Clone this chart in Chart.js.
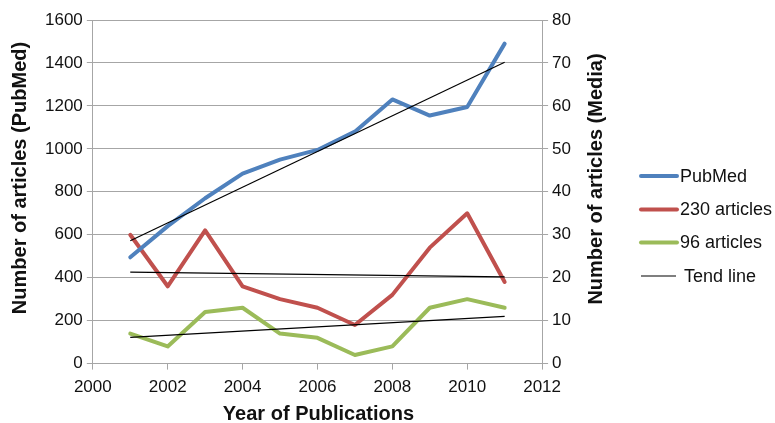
<!DOCTYPE html>
<html>
<head>
<meta charset="utf-8">
<script src="https://cdn.jsdelivr.net/npm/chart.js@4.4.1/dist/chart.umd.min.js"></script>
<style>
  html, body { margin: 0; padding: 0; background: #fff; }
  #wrap { width: 775px; height: 423px; }
</style>
</head>
<body>
<div id="wrap"><canvas id="myChart" width="775" height="423"></canvas></div>
<script>
// данные
const years = [2001, 2002, 2003, 2004, 2005, 2006, 2007, 2008, 2009, 2010, 2011];
const pubmedValues = [495, 640, 770, 885, 950, 995, 1080, 1230, 1155, 1195, 1490];
const articles230 = [30, 18, 31, 18, 15, 13, 9, 16, 27, 35, 19];
const articles96 = [7, 4, 12, 13, 7, 6, 2, 4, 13, 15, 13];

// концы линий тренда
const trendYears = [2001, 2011];
const pubmedTrend = [572, 1403];
const articles230Trend = [21.3, 20.2];
const articles96Trend = [6.1, 11.0];

const legendLabels = ["PubMed", "230 articles", "96 articles", "Tend line"];
const xTitle = "Year of Publications";
const yTitle = "Number of articles (PubMed)";
const y1Title = "Number of articles (Media)";

const BLUE = "#4F81BD";
const RED = "#C0504D";
const GREEN = "#9BBB59";
const GRID = "#a6a6a6";
const FONT = "'Liberation Sans', Arial, Helvetica, sans-serif";

function toPoints(xs, ys) {
  return xs.map((x, i) => ({ x: x, y: ys[i] }));
}

function mainLine(label, color, data, axis) {
  return {
    label: label,
    data: toPoints(years, data),
    borderColor: color,
    backgroundColor: color,
    borderWidth: 4,
    radius: 0,
    fill: false,
    tension: 0,
    borderJoinStyle: "round",
    borderCapStyle: "round",
    yAxisID: axis,
    order: 1
  };
}

function trendLine(data, axis) {
  return {
    label: "Tend line",
    data: toPoints(trendYears, data),
    borderColor: "#000",
    backgroundColor: "#000",
    borderWidth: 1.2,
    radius: 0,
    fill: false,
    tension: 0,
    yAxisID: axis,
    order: 0
  };
}

// подписи осей и легенда справа, рисуем сами
const sideLegend = {
  id: "sideLegend",
  afterDraw(chart) {
    const ctx = chart.ctx;
    const colors = [BLUE, RED, GREEN, "#000"];
    const ys = [176, 209.5, 242.5, 276];
    ctx.save();

    ctx.fillStyle = "#111";
    ctx.font = "bold 20px " + FONT;
    ctx.textAlign = "center";
    ctx.textBaseline = "middle";
    ctx.fillText(xTitle, chart.chartArea.left + chart.chartArea.width / 2 + 1, 414);

    ctx.save();
    ctx.translate(20, 178);
    ctx.rotate(-Math.PI / 2);
    ctx.fillText(yTitle, 0, 0);
    ctx.restore();

    ctx.save();
    ctx.translate(596, 179);
    ctx.rotate(-Math.PI / 2);
    ctx.fillText(y1Title, 0, 0);
    ctx.restore();

    ctx.font = "18px " + FONT;
    ctx.textAlign = "left";
    legendLabels.forEach((label, i) => {
      const isTrend = i === 3;
      ctx.beginPath();
      ctx.strokeStyle = colors[i];
      ctx.lineWidth = isTrend ? 1.2 : 4;
      ctx.lineCap = isTrend ? "butt" : "round";
      ctx.moveTo(641, ys[i]);
      ctx.lineTo(isTrend ? 676 : 677, ys[i]);
      ctx.stroke();
      ctx.fillText(label, isTrend ? 684 : 680, ys[i] + 1);
    });
    ctx.restore();
  }
};

const scalesConfig = {
  x: {
    type: "linear",
    position: "bottom",
    min: 2000,
    max: 2012,
    ticks: {
      stepSize: 2,
      color: "#111",
      font: { family: FONT, size: 17 },
      padding: 8,
      maxRotation: 0,
      callback: (v) => String(v)
    },
    grid: { drawOnChartArea: false, color: GRID, tickLength: 6 },
    border: { color: GRID }
  },
  y: {
    type: "linear",
    position: "left",
    min: 0,
    max: 1600,
    ticks: {
      stepSize: 200,
      color: "#111",
      font: { family: FONT, size: 17 },
      padding: 4,
      callback: (v) => String(v)
    },
    grid: { color: GRID, tickLength: 6 },
    border: { color: GRID }
  },
  y1: {
    type: "linear",
    position: "right",
    min: 0,
    max: 80,
    ticks: {
      stepSize: 10,
      color: "#111",
      font: { family: FONT, size: 17 },
      padding: 4,
      callback: (v) => String(v)
    },
    grid: { drawOnChartArea: false, color: GRID, tickLength: 6 },
    border: { display: true, color: GRID }
  }
};

new Chart(document.getElementById("myChart"), {
  type: "line",
  data: {
    datasets: [
      mainLine(legendLabels[0], BLUE, pubmedValues, "y"),
      mainLine(legendLabels[1], RED, articles230, "y1"),
      mainLine(legendLabels[2], GREEN, articles96, "y1"),
      trendLine(pubmedTrend, "y"),
      trendLine(articles230Trend, "y1"),
      trendLine(articles96Trend, "y1")
    ]
  },
  options: {
    responsive: false,
    animation: false,
    devicePixelRatio: 1,
    layout: { padding: { left: 41, right: 200, top: 20, bottom: 17 } },
    scales: scalesConfig,
    plugins: {
      legend: { display: false },
      tooltip: { enabled: false }
    }
  },
  plugins: [sideLegend]
});
</script>
</body>
</html>
